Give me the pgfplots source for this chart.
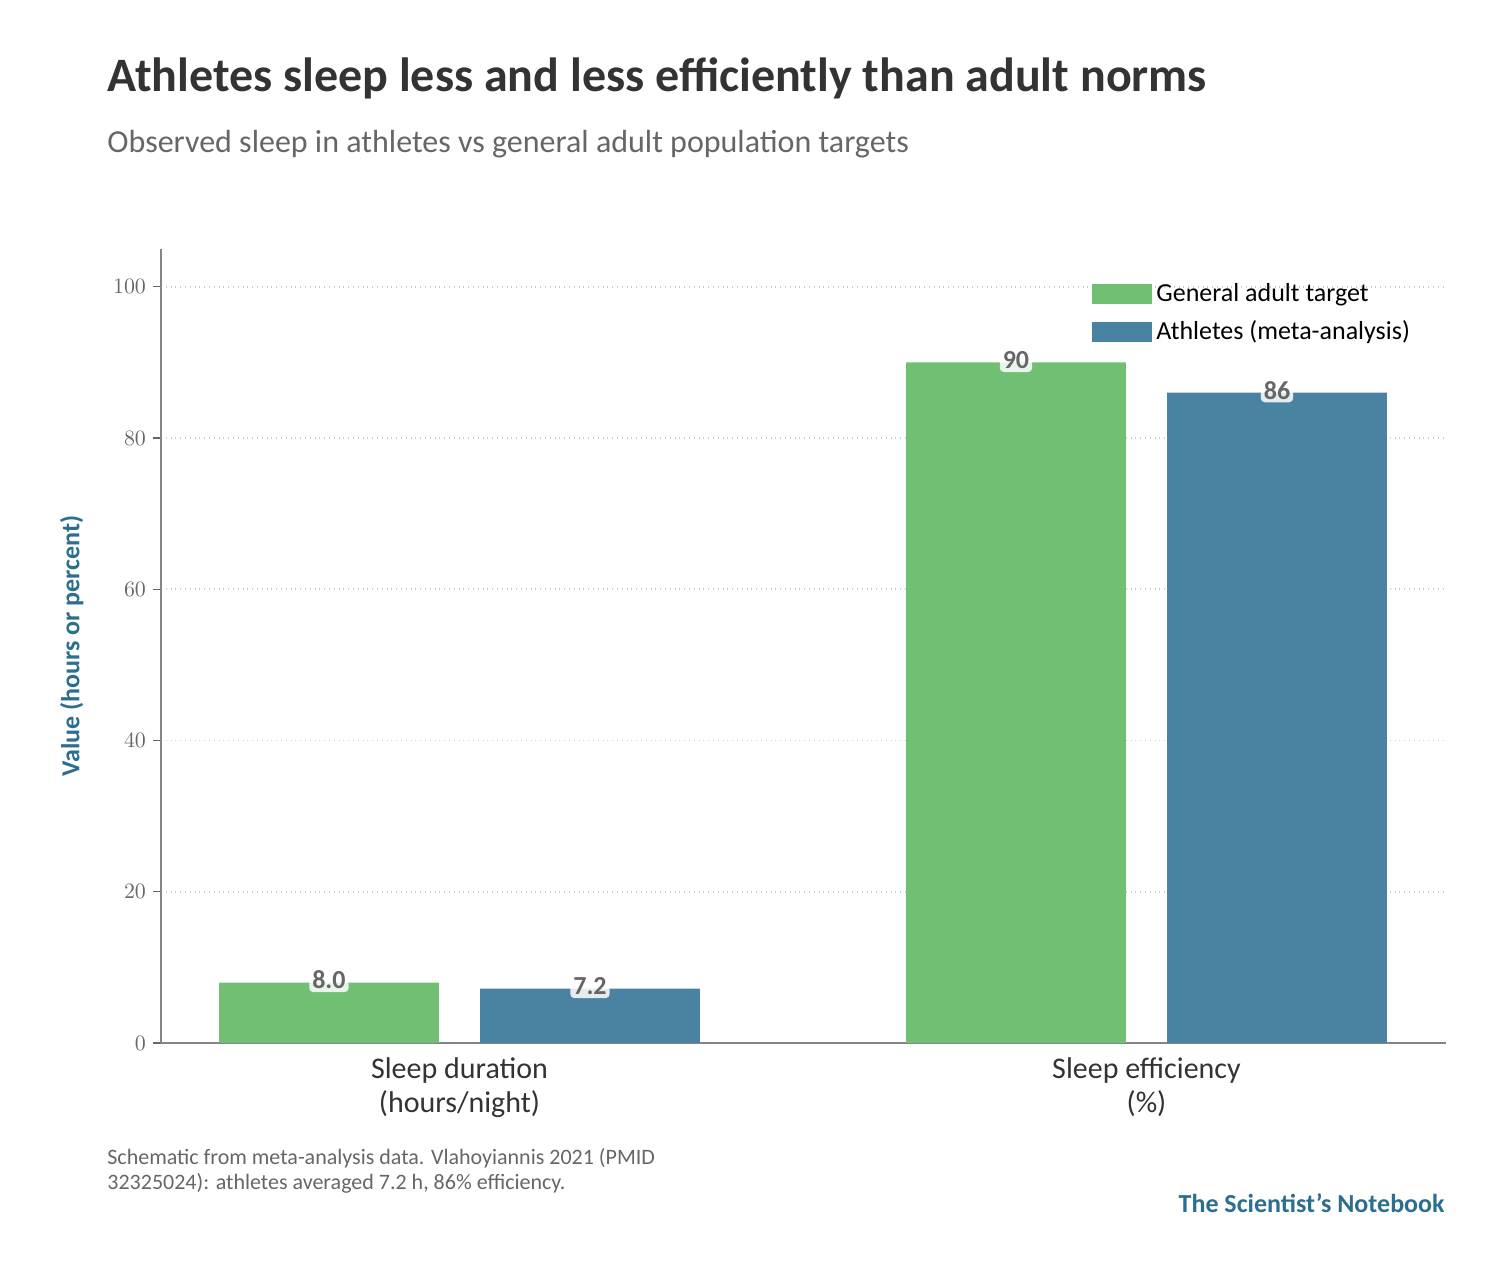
\documentclass[border=0pt]{standalone}
\usepackage{pgfplots}
\pgfplotsset{compat=1.18}
\usepackage{fontspec}
\setmainfont{Carlito}
\definecolor{cgreen}{HTML}{70BF73}
\definecolor{cblue}{HTML}{4A83A1}
\definecolor{ctitle}{HTML}{333333}
\definecolor{cgray}{HTML}{666666}
\definecolor{cbrand}{HTML}{2C6E8F}
\begin{document}
\begin{tikzpicture}
\useasboundingbox (-80.5pt,-115pt) rectangle (669pt,521.5pt);
\begin{axis}[
  at={(0,0)}, anchor=south west, scale only axis,
  width=642.5pt, height=397pt,
  xmin=-0.4345, xmax=1.436, ymin=0, ymax=105,
  ybar, bar width=0.32,
  axis x line*=bottom, axis y line*=left,
  axis line style={draw=cgray!80, line width=0.8pt},
  xtick={0,1}, xticklabels={{Sleep duration\\(hours/night)},{Sleep efficiency\\(\%)}},
  xticklabel style={align=center, font=\fontsize{15}{17}\selectfont, text=ctitle},
  major x tick style={draw=none},
  ytick={0,20,40,60,80,100},
  yticklabel style={font=\fontsize{11}{13}\selectfont, text=cgray},
  y tick style={draw=cgray, line width=0.6pt}, tick align=outside, major tick length=4pt,
  ymajorgrids, grid style={dotted, draw=black!20, line width=0.8pt},
  ylabel={\bfseries Value (hours or percent)},
  ylabel style={font=\fontsize{13}{15}\selectfont, text=cbrand},
  ylabel shift=8pt,
  legend cell align=left,
  legend style={at={(0.98,0.967)}, anchor=north east, draw=none, fill=none,
    font=\fontsize{13}{15}\selectfont, row sep=4pt,
    /tikz/every even column/.append style={column sep=6pt}},
  legend image code/.code={\fill[#1] (0pt,-5pt) rectangle (30pt,5pt);},
  point meta=explicit symbolic,
  nodes near coords,
  every node near coord/.append style={font=\bfseries\fontsize{13}{15}\selectfont, text=cgray,
     fill=white, fill opacity=0.85, text opacity=1, rounded corners=2pt, inner sep=1.5pt, anchor=south, yshift=-5pt},
]
\addplot[fill=cgreen, draw=none, bar shift=-0.19] coordinates {(0,8.0) [8.0] (1,90) [90]};
\addlegendentry{General adult target}
\addplot[fill=cblue, draw=none, bar shift=0.19] coordinates {(0,7.2) [7.2] (1,86) [86]};
\addlegendentry{Athletes (meta-analysis)}
\end{axis}
\node[anchor=base west, font=\bfseries\fontsize{24}{28}\selectfont, text=ctitle, inner sep=0] at (-27pt,475.5pt) {Athletes sleep less and less efficiently than adult norms};
\node[anchor=base west, font=\fontsize{16}{19}\selectfont, text=cgray, inner sep=0] at (-27pt,445pt) {Observed sleep in athletes vs general adult population targets};
\node[anchor=base west, font=\fontsize{11}{12.5}\selectfont, text=cgray, inner sep=0, align=left] at (-27pt,-73.5pt) {Schematic from meta-analysis data. Vlahoyiannis 2021 (PMID\\32325024): athletes averaged 7.2 h, 86\% efficiency.};
\node[anchor=base east, font=\bfseries\fontsize{13}{15}\selectfont, text=cbrand, inner sep=0] at (642pt,-85pt) {The Scientist's Notebook};
\end{tikzpicture}
\end{document}
